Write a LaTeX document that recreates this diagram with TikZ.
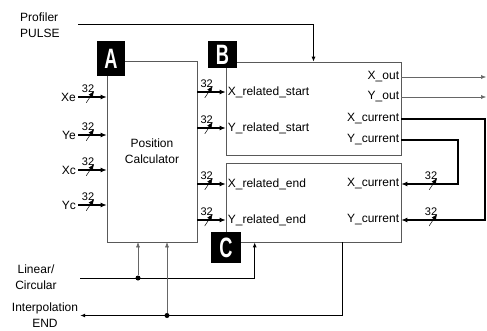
\documentclass[tikz,border=0pt]{standalone}
\usepackage{fontspec}
\setmainfont{Liberation Sans}
\usepackage{graphicx}
\usetikzlibrary{arrows.meta,positioning,calc}

\begin{document}
\begin{tikzpicture}[
x=1pt,
y=-1pt,
every node/.style={font=\fontsize{12}{16}\selectfont},
unit/.style={rectangle,draw=black!65,line width=0.6pt,inner sep=0pt,align=center},
tag/.style={rectangle,fill=black,text=white,inner sep=0pt,font=\fontsize{28}{28}\selectfont\bfseries},
sig/.style={inner sep=2pt,align=center},
port/.style={inner sep=2pt},
bus/.style={line width=1.7pt,-{Latex[length=6pt,width=5pt]}},
ctrl/.style={line width=1pt,-{Latex[length=5pt,width=4pt]}},
fine/.style={line width=0.5pt,draw=black!60,-{Latex[length=5pt,width=4pt]}},
junction/.style={circle,fill=black,inner sep=0pt,minimum size=5pt},
busmark/.style={rectangle,inner sep=0pt,minimum width=8pt,minimum height=12pt,
  path picture={\draw[line width=0.5pt] (path picture bounding box.south west) -- (path picture bounding box.north east);},
  label={[inner sep=0pt,xshift=-2pt,yshift=-3pt,font=\fontsize{11}{11}\selectfont]above:32}}
]
\useasboundingbox (0,0) rectangle (487,331);

% blocks
\node[unit,minimum width=90,minimum height=181] (calc) at (152,151.5) {Position\\Calculator};
\node[unit,minimum width=175,minimum height=93] (startbox) at (313.5,108.5) {};
\node[unit,minimum width=175,minimum height=79] (endbox) at (313.5,202.5) {};

\node[tag,minimum width=28,minimum height=35] (tagA) at (111,58.5) {\scalebox{0.65}[1]{A}};
\node[tag,minimum width=29,minimum height=27] (tagB) at (222.5,54.5) {\scalebox{0.65}[1]{B}};
\node[tag,minimum width=30,minimum height=31] (tagC) at (226,247.5) {\scalebox{0.65}[1]{C}};

% ports
\node[port,anchor=west] (xrs) at (startbox.west |- 0,92) {X\_related\_start};
\node[port,anchor=west] (yrs) at (startbox.west |- 0,128) {Y\_related\_start};
\node[port,anchor=east] (xout) at (startbox.east |- 0,77) {X\_out};
\node[port,anchor=east] (yout) at (startbox.east |- 0,97) {Y\_out};
\node[port,anchor=east] (bxcur) at (startbox.east |- 0,119) {X\_current};
\node[port,anchor=east] (bycur) at (startbox.east |- 0,140) {Y\_current};
\node[port,anchor=west] (xre) at (endbox.west |- 0,184) {X\_related\_end};
\node[port,anchor=west] (yre) at (endbox.west |- 0,220) {Y\_related\_end};
\node[port,anchor=east] (cxcur) at (endbox.east |- 0,184) {X\_current};
\node[port,anchor=east] (cycur) at (endbox.east |- 0,220) {Y\_current};

% inputs
\node[sig,anchor=east] (xe) at (78,97) {Xe};
\node[sig,anchor=east] (ye) at (78,135) {Ye};
\node[sig,anchor=east] (xc) at (78,170) {Xc};
\node[sig,anchor=east] (yc) at (78,205) {Yc};
\foreach \s in {xe,ye,xc,yc}
  \draw[bus] (\s) -- node[busmark,pos=0.42]{} (\s -| calc.west);

\foreach \p in {xrs,yrs,xre,yre}
  \draw[bus] (\p -| calc.east) -- node[busmark,pos=0.4]{} (\p.west);

% outputs
\coordinate (xoutend) at (486,77);
\coordinate (youtend) at (486,97);
\draw[fine] (xout) -- (xoutend);
\draw[fine] (yout) -- (youtend);

\coordinate (loopx) at (485,220);
\coordinate (loopy) at (458,184);
\draw[bus] (bxcur) -| (loopx) -- node[busmark,pos=0.62]{} (cycur);
\draw[bus] (bycur) -| (loopy) -- node[busmark,pos=0.44]{} (cxcur);

% control
\node[sig,anchor=west,align=left] (prof) at (18,25) {Profiler\\PULSE};
\coordinate (profin) at (78,25);
\draw[ctrl] (profin) -| (startbox.north);

\node[sig] (lincirc) at (36,277) {Linear/\\Circular};
\coordinate (lcin) at (80,278);
\draw[ctrl] (lcin) -| ([xshift=29pt]endbox.south west);
\node[junction] (lcdot) at (138,278) {};
\draw[fine] (lcdot) -- (lcdot |- calc.south);

\node[sig] (interp) at (45,315.5) {Interpolation\\END};
\draw[ctrl] ([xshift=117pt]endbox.south west) |- (interp);
\node[junction] (iedot) at (167,315.5) {};
\draw[fine] (iedot) -- (iedot |- calc.south);
\end{tikzpicture}
\end{document}
